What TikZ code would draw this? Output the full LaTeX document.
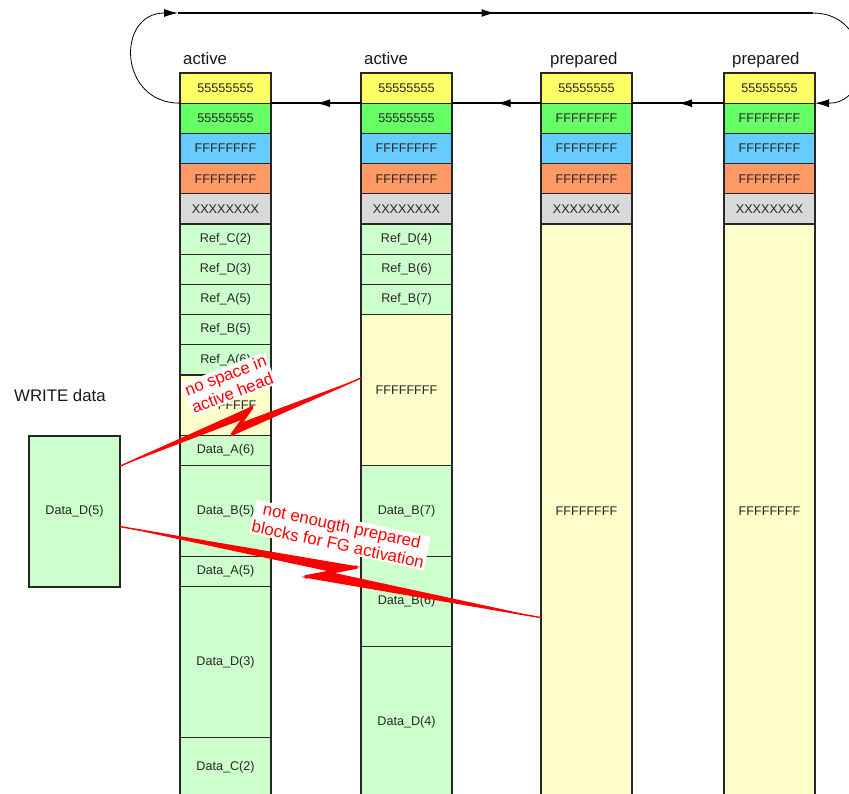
\documentclass[tikz,border=0pt]{standalone}
\usepackage{fontspec}
\setmainfont{Liberation Sans}
\usetikzlibrary{positioning,calc,arrows.meta,decorations.markings}

\definecolor{cyel}{HTML}{FFFF66}
\definecolor{cgrn}{HTML}{66FF66}
\definecolor{cblu}{HTML}{66CCFF}
\definecolor{corg}{HTML}{FF9966}
\definecolor{cgry}{HTML}{D9D9D9}
\definecolor{lgrn}{HTML}{CCFFCC}
\definecolor{lyel}{HTML}{FFFFCC}

\begin{document}
\begin{tikzpicture}[x=1pt, y=-1pt, node distance=0pt, >={Latex[length=14pt,width=8pt]}]
        \tikzstyle{cell}=[draw=black!85, line width=1.2pt, rectangle, minimum width=91pt, minimum height=30.2pt, inner sep=0pt, outer sep=0pt, fill=lgrn, text=black!85, font=\fontsize{12.6}{14}\selectfont];
        \tikzstyle{rows}=[minimum height=#1*30.2pt];
        \tikzstyle{head}=[anchor=base west, inner sep=0pt, text=black!90, font=\fontsize{16.8}{19}\selectfont];
        \tikzstyle{note}=[fill=white, text=red, align=center, inner sep=1.5pt, font=\fontsize{16.8}{19}\selectfont];
        \tikzstyle{bolt}=[draw=red, line width=1.4pt];
        \tikzstyle{midarrow}=[postaction={decorate, decoration={markings, mark=at position 0.5 with {\arrow{>}}}}];

        \useasboundingbox (0,0) rectangle (849,794);
        \clip (0,0) rectangle (849,794);

        % first active block
        \node[cell, fill=cyel] (c1n1) at (225.5,88.1) {55555555};
        \node[cell, fill=cgrn, below=of c1n1] (c1n2) {55555555};
        \node[cell, fill=cblu, below=of c1n2] (c1n3) {FFFFFFFF};
        \node[cell, fill=corg, below=of c1n3] (c1n4) {FFFFFFFF};
        \node[cell, fill=cgry, below=of c1n4] (c1n5) {XXXXXXXX};
        \node[cell, below=of c1n5] (c1n6) {Ref\_C(2)};
        \node[cell, below=of c1n6] (c1n7) {Ref\_D(3)};
        \node[cell, below=of c1n7] (c1n8) {Ref\_A(5)};
        \node[cell, below=of c1n8] (c1n9) {Ref\_B(5)};
        \node[cell, below=of c1n9] (c1n10) {Ref\_A(6)};
        \node[cell, fill=lyel, rows=2, below=of c1n10] (c1n11) {FFFFFFFF};
        \node[cell, below=of c1n11] (c1n12) {Data\_A(6)};
        \node[cell, rows=3, below=of c1n12] (c1n13) {Data\_B(5)};
        \node[cell, below=of c1n13] (c1n14) {Data\_A(5)};
        \node[cell, rows=5, below=of c1n14] (c1n15) {Data\_D(3)};
        \node[cell, rows=2, below=of c1n15] (c1n16) {Data\_C(2)};

        % second active block
        \node[cell, fill=cyel, right=90pt of c1n1] (c2n1) {55555555};
        \node[cell, fill=cgrn, below=of c2n1] (c2n2) {55555555};
        \node[cell, fill=cblu, below=of c2n2] (c2n3) {FFFFFFFF};
        \node[cell, fill=corg, below=of c2n3] (c2n4) {FFFFFFFF};
        \node[cell, fill=cgry, below=of c2n4] (c2n5) {XXXXXXXX};
        \node[cell, below=of c2n5] (c2n6) {Ref\_D(4)};
        \node[cell, below=of c2n6] (c2n7) {Ref\_B(6)};
        \node[cell, below=of c2n7] (c2n8) {Ref\_B(7)};
        \node[cell, fill=lyel, rows=5, below=of c2n8] (c2n9) {FFFFFFFF};
        \node[cell, rows=3, below=of c2n9] (c2n10) {Data\_B(7)};
        \node[cell, rows=3, below=of c2n10] (c2n11) {Data\_B(6)};
        \node[cell, rows=5, below=of c2n11] (c2n12) {Data\_D(4)};

        % prepared blocks
        \node[cell, fill=cyel, right=89pt of c2n1] (c3n1) {55555555};
        \node[cell, fill=cgrn, below=of c3n1] (c3n2) {FFFFFFFF};
        \node[cell, fill=cblu, below=of c3n2] (c3n3) {FFFFFFFF};
        \node[cell, fill=corg, below=of c3n3] (c3n4) {FFFFFFFF};
        \node[cell, fill=cgry, below=of c3n4] (c3n5) {XXXXXXXX};
        \node[cell, fill=lyel, rows=19, below=of c3n5] (c3n6) {FFFFFFFF};

        \node[cell, fill=cyel, right=92pt of c3n1] (c4n1) {55555555};
        \node[cell, fill=cgrn, below=of c4n1] (c4n2) {FFFFFFFF};
        \node[cell, fill=cblu, below=of c4n2] (c4n3) {FFFFFFFF};
        \node[cell, fill=corg, below=of c4n3] (c4n4) {FFFFFFFF};
        \node[cell, fill=cgry, below=of c4n4] (c4n5) {XXXXXXXX};
        \node[cell, fill=lyel, rows=19, below=of c4n5] (c4n6) {FFFFFFFF};

        \node[head] (t1) at ([xshift=3pt, yshift=8pt]c1n1.north west) {active};
        \node[head] (t2) at ([xshift=3pt, yshift=8pt]c2n1.north west) {active};
        \node[head] (t3) at ([xshift=9pt, yshift=8pt]c3n1.north west) {prepared};
        \node[head] (t4) at ([xshift=8pt, yshift=8pt]c4n1.north west) {prepared};

        % incoming write
        \node[cell, rows=5] (wd) at (74.5,511.5) {Data\_D(5)};
        \node[head] (tw) at ([xshift=-15pt, yshift=34pt]wd.north west) {WRITE data};

        % block ring
        \coordinate (tl) at (178,13);
        \coordinate (tr) at (813,13);
        \draw[->, line width=0.8pt] (c1n1.south west) .. controls +(-62,0) and +(-62,0) .. (tl);
        \draw[line width=1.8pt, midarrow] (tl) -- (tr);
        \draw[->, line width=0.8pt] (tr) .. controls +(60,0) and +(60,0) .. (c4n1.south east);
        \draw[line width=1.4pt, midarrow] (c4n1.south west) -- (c3n1.south east);
        \draw[line width=1.4pt, midarrow] (c3n1.south west) -- (c2n1.south east);
        \draw[line width=1.4pt, midarrow] (c2n1.south west) -- (c1n1.south east);

        % failed writes
        \coordinate (s1) at ($(wd.north east)!0.2!(wd.south east)$);
        \coordinate (e1) at ($(c2n9.north west)!0.42!(c2n9.south west)$);
        \coordinate (k1a) at (252,407);
        \coordinate (k1b) at (232,435);
        \draw[bolt] (s1) -- (k1a) -- (k1b) -- (e1);
        \fill[red] (s1) -- (k1a) -- ($(k1a)!15pt!(k1b)$) -- cycle;
        \fill[red] (e1) -- (k1b) -- ($(k1b)!15pt!(k1a)$) -- cycle;
        \draw[red, line width=3.5pt] (k1a) -- (k1b);

        \coordinate (s2) at ($(wd.north east)!0.6!(wd.south east)$);
        \coordinate (e2) at ($(c3n6.north west)!0.686!(c3n6.south west)$);
        \coordinate (k2a) at (357,567);
        \coordinate (k2b) at (305,577);
        \draw[bolt] (s2) -- (k2a) -- (k2b) -- (e2);
        \fill[red] (s2) -- (k2a) -- ($(k2a)!26pt!(k2b)$) -- cycle;
        \fill[red] (e2) -- (k2b) -- ($(k2b)!26pt!(k2a)$) -- cycle;
        \draw[red, line width=3.5pt] (k2a) -- (k2b);

        \node[note, rotate=21] (l1) at (229,384) {no space in\\active head};
        \node[note, rotate=-12] (l2) at (340,535) {not enougth prepared\\blocks for FG activation};
    \end{tikzpicture}
\end{document}
